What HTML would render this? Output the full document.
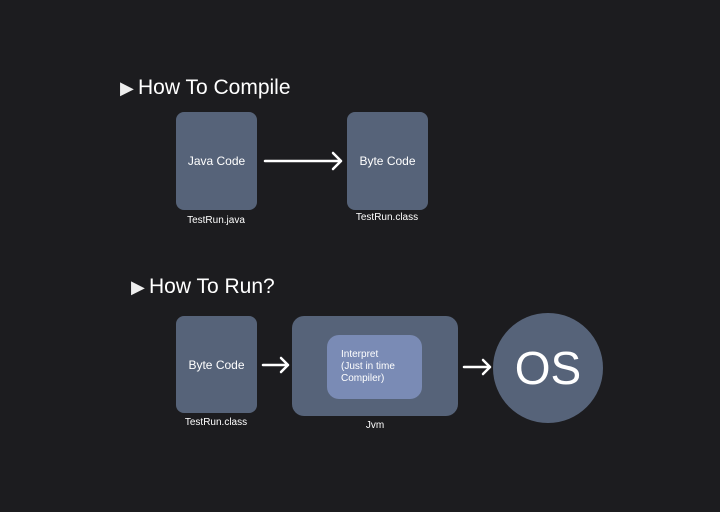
<!DOCTYPE html>
<html><head><style>
body{margin:0;width:720px;height:512px;background:#1c1c1f;position:relative;overflow:hidden;font-family:"Liberation Sans",sans-serif;color:#fff}
.a{position:absolute}
.box{position:absolute;background:#566379;border-radius:8px;display:flex;align-items:center;justify-content:center;font-size:12px}
.lbl{position:absolute;font-size:10px;text-align:center;width:120px}
.t{position:absolute;font-size:21px;white-space:nowrap}
.tri{position:absolute;font-size:18px;color:#eee}
</style></head><body>
<div class="tri" style="left:120px;top:78px">&#9654;</div>
<div class="t" style="left:138px;top:76px">How To Compile</div>
<div class="box" style="left:176px;top:112px;width:81px;height:98px">Java Code</div>
<div class="box" style="left:347px;top:112px;width:81px;height:98px">Byte Code</div>
<div class="lbl" style="left:156px;top:215px">TestRun.java</div>
<div class="lbl" style="left:327px;top:212px">TestRun.class</div>
<div class="tri" style="left:131px;top:277px">&#9654;</div>
<div class="t" style="left:149px;top:275px">How To Run?</div>
<div class="box" style="left:176px;top:316px;width:81px;height:97px">Byte Code</div>
<div class="lbl" style="left:156px;top:417px">TestRun.class</div>
<div class="box" style="left:292px;top:316px;width:166px;height:100px;border-radius:12px"></div>
<div class="a" style="left:327px;top:335px;width:95px;height:64px;background:#7a8bb5;border-radius:12px"></div>
<div class="a" style="left:341px;top:349px;font-size:10px;line-height:12px">Interpret<br>(Just in time<br>Compiler)</div>
<div class="lbl" style="left:315px;top:420px">Jvm</div>
<div class="a" style="left:493px;top:313px;width:110px;height:110px;border-radius:50%;background:#566379;display:flex;align-items:center;justify-content:center;font-size:46px">OS</div>
<svg class="a" style="left:0;top:0" width="720" height="512" fill="none" stroke="#fff" stroke-width="2.5" stroke-linecap="round" stroke-linejoin="round">
<path d="M265 161H341M333 153L341 161L333 169"/>
<path d="M263 365H288M281 358L288 365L281 372"/>
<path d="M464 367H490M483 360L490 367L483 374"/>
</svg>
</body></html>
